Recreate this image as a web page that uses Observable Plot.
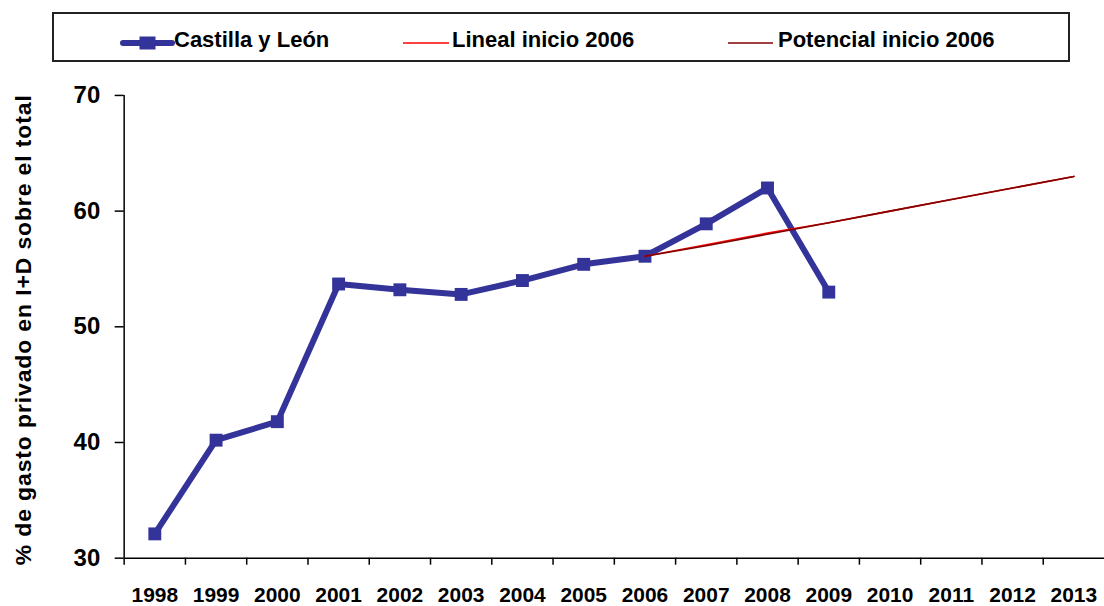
<!DOCTYPE html>
<html>
<head>
<meta charset="utf-8">
<script src="https://cdn.jsdelivr.net/npm/d3@7"></script>
<script src="https://cdn.jsdelivr.net/npm/@observablehq/plot@0.6"></script>
<style>
  html, body { margin: 0; padding: 0; background: #fff; overflow: hidden; }
  body { width: 1104px; height: 606px; font-family: "Liberation Sans", Arial, sans-serif; }
  #legend { display: block; }
</style>
</head>
<body>
<svg id="legend" width="1104" height="70"></svg>
<div id="chart"></div>
<script>
// ---- data ----
const years = [1998, 1999, 2000, 2001, 2002, 2003, 2004, 2005, 2006, 2007, 2008, 2009];
const castilla = [32.1, 40.2, 41.8, 53.7, 53.2, 52.8, 54.0, 55.4, 56.1, 58.9, 62.0, 53.0];
const trendYears = [2006, 2007, 2008, 2009, 2010, 2011, 2012, 2013];
const lineal = [56.1, 57.1, 58.1, 59.0, 60.0, 61.0, 62.0, 63.0];
const potencial = [56.1, 57.0, 58.0, 59.0, 60.0, 61.0, 62.0, 63.0];
const xLabels = [1998, 1999, 2000, 2001, 2002, 2003, 2004, 2005, 2006, 2007, 2008, 2009, 2010, 2011, 2012, 2013];
const yTicks = [30, 40, 50, 60, 70];
const seriesNames = ["Castilla y León", "Lineal inicio 2006", "Potencial inicio 2006"];
const seriesColors = ["#333399", "#FF0000", "#800000"];
const yLabel = "% de gasto privado en I+D sobre el total";

const mainData = years.map((y, i) => ({year: y, value: castilla[i]}));
const linData = trendYears.map((y, i) => ({year: y, value: lineal[i]}));
const potData = trendYears.map((y, i) => ({year: y, value: potencial[i]}));
const boundaries = xLabels.map(y => y - 0.5);

// ---- legend ----
const lg = d3.select("#legend");
lg.append("rect").attr("x", 53).attr("y", 13).attr("width", 1016).attr("height", 48)
  .attr("fill", "#fff").attr("stroke", "#222").attr("stroke-width", 2);
const items = [
  {x1: 123, x2: 172, tx: 174},
  {x1: 403, x2: 449, tx: 452},
  {x1: 728, x2: 773, tx: 778}
];
items.forEach((it, i) => {
  lg.append("line").attr("x1", it.x1).attr("x2", it.x2).attr("y1", 43).attr("y2", 43)
    .attr("stroke", seriesColors[i]).attr("stroke-width", i === 0 ? 6 : 1.5)
    .attr("stroke-linecap", i === 0 ? "round" : "butt");
  if (i === 0) {
    lg.append("rect").attr("x", (it.x1 + it.x2) / 2 - 8).attr("y", 36.5).attr("width", 16).attr("height", 13)
      .attr("fill", seriesColors[0]);
  }
  lg.append("text").attr("x", it.tx).attr("y", 46.5).text(seriesNames[i])
    .attr("font-size", 22).attr("font-weight", "bold").attr("fill", "#000")
    .attr("font-family", "Liberation Sans, Arial, sans-serif");
});

// ---- chart ----
const chart = Plot.plot({
  width: 1107,
  height: 536,
  marginTop: 25,
  marginBottom: 47,
  marginLeft: 124,
  marginRight: 0,
  style: {fontFamily: "Liberation Sans, Arial, sans-serif", fontWeight: "bold", color: "#000", background: "#fff", overflow: "visible"},
  x: {type: "linear", domain: [1997.5, 2013.5]},
  y: {domain: [30, 70]},
  marks: [
    Plot.axisY({ticks: yTicks, tickSize: 9, tickPadding: 15, fontSize: 24, label: null, tickFormat: d => String(d), strokeWidth: 1.5}),
    Plot.axisX({ticks: boundaries, tickSize: 7, tickFormat: () => "", label: null, strokeWidth: 1.5}),
    Plot.axisX({ticks: xLabels, tickSize: 0, tickPadding: 29, fontSize: 21, label: null, tickFormat: d => String(d)}),
    Plot.ruleX([1997.5], {stroke: "#000", strokeWidth: 1.5}),
    Plot.ruleY([30], {stroke: "#000", strokeWidth: 1.5}),
    Plot.line(mainData, {x: "year", y: "value", stroke: seriesColors[0], strokeWidth: 6, strokeLinejoin: "miter"}),
    Plot.dot(mainData, {x: "year", y: "value", symbol: "square", r: 7.3, fill: seriesColors[0], stroke: "none"}),
    Plot.line(linData, {x: "year", y: "value", stroke: seriesColors[1], strokeWidth: 1.6}),
    Plot.line(potData, {x: "year", y: "value", stroke: seriesColors[2], strokeWidth: 1.6}),
    Plot.text([yLabel], {frameAnchor: "left", textAnchor: "middle", dx: -101, dy: 3, rotate: -90, fontSize: 23, fontWeight: "bold", fill: "#000"})
  ]
});
document.getElementById("chart").appendChild(chart);
d3.select(chart).selectAll("text").filter(function() { return this.textContent === yLabel; })
  .attr("letter-spacing", "0.9px");
</script>
</body>
</html>
